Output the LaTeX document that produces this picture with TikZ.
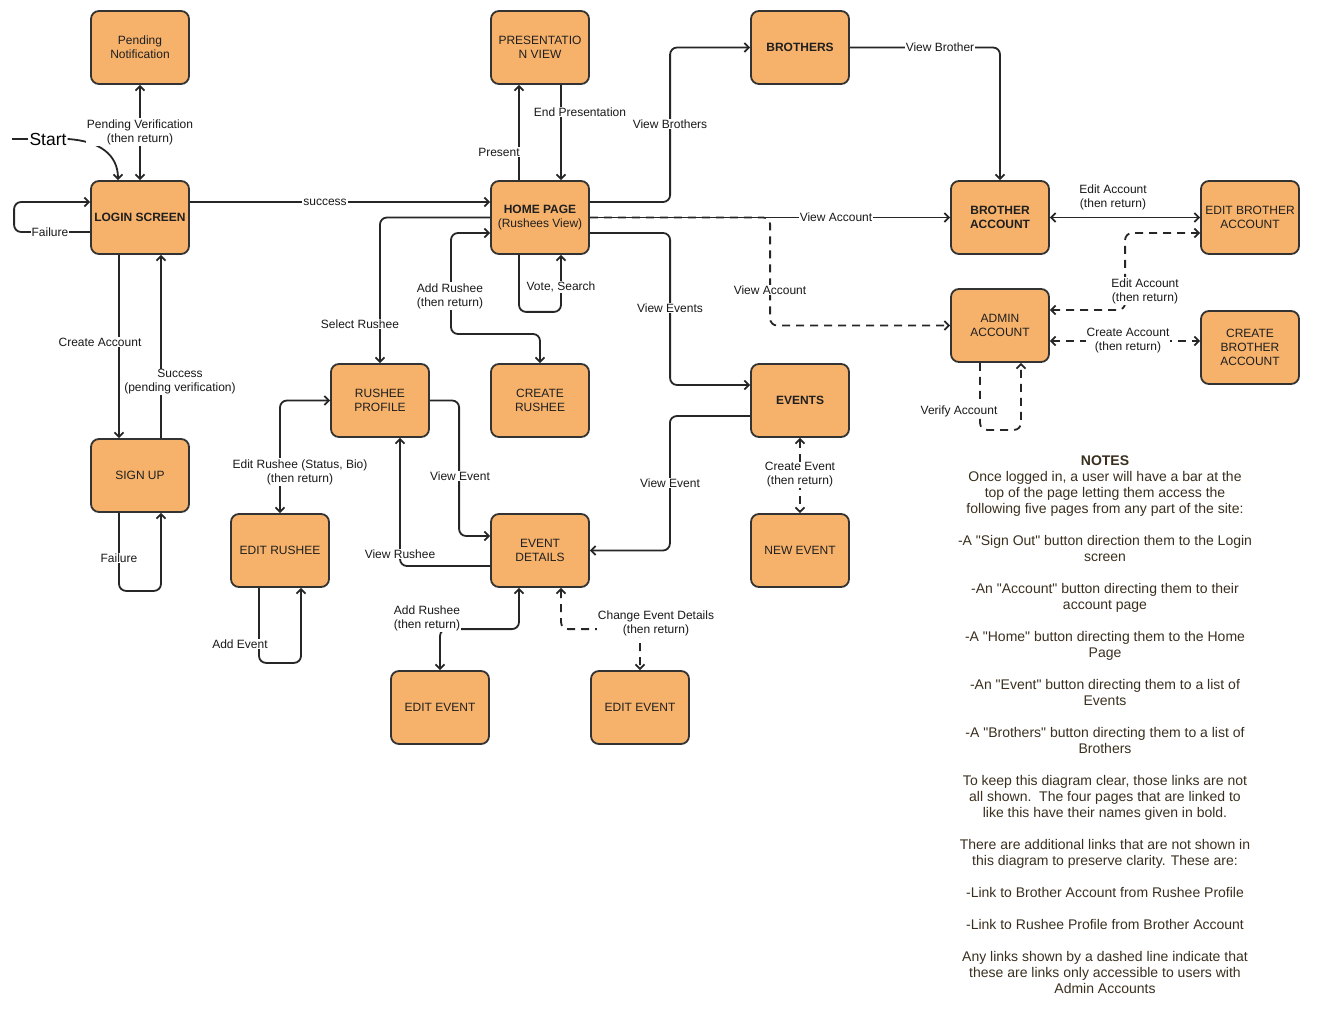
\documentclass[tikz,border=0pt]{standalone}
\usepackage{fontspec}
\setmainfont{Liberation Sans}[Ligatures=TeXOff]
\usetikzlibrary{arrows.meta}
\definecolor{boxfill}{HTML}{F6B26B}
\definecolor{boxline}{HTML}{333333}
\definecolor{notecol}{HTML}{3A2F1E}
\begin{document}
\begin{tikzpicture}[x=1pt,y=-1pt,
  page/.style={draw=boxline, fill=boxfill, line width=1.8pt, rounded corners=8pt,
    minimum width=98pt, minimum height=73pt, inner sep=2pt, align=center,
    text=black!88, font=\fontsize{12}{14}\selectfont},
  conn/.style={draw=black!85, line width=1.8pt, rounded corners=7pt},
  adm/.style={conn, dash pattern=on 8pt off 6pt},
  tip/.style={-{Straight Barb[length=4.5pt,width=9pt]}},
  tips/.style={{Straight Barb[length=4.5pt,width=9pt]}-{Straight Barb[length=4.5pt,width=9pt]}},
  lbl/.style={fill=white, inner sep=1pt, align=center, text=black!90,
    font=\fontsize{12}{14}\selectfont}]
\useasboundingbox (0,0) rectangle (1320,1016);

% pages
\node[page] (pend)   at (140,47.5)  {Pending\\Notification};
\node[page] (login)  at (140,217.5) {\textbf{LOGIN SCREEN}};
\node[page] (pres)   at (540,47.5)  {PRESENTATIO\\N VIEW};
\node[page] (home)   at (540,217.5) {\textbf{HOME PAGE}\\(Rushees View)};
\node[page] (bros)   at (800,47.5)  {\textbf{BROTHERS}};
\node[page] (bacc)   at (1000,217.5){\textbf{BROTHER}\\\textbf{ACCOUNT}};
\node[page] (ebacc)  at (1250,217.5){EDIT BROTHER\\ACCOUNT};
\node[page] (admin)  at (1000,325.5){ADMIN\\ACCOUNT};
\node[page] (cbacc)  at (1250,347.5){CREATE\\BROTHER\\ACCOUNT};
\node[page] (rprof)  at (380,400.5) {RUSHEE\\PROFILE};
\node[page] (crush)  at (540,400.5) {CREATE\\RUSHEE};
\node[page] (events) at (800,400.5) {\textbf{EVENTS}};
\node[page] (signup) at (140,475.5) {SIGN UP};
\node[page] (erush)  at (280,550.5) {EDIT RUSHEE};
\node[page] (edet)   at (540,550.5) {EVENT\\DETAILS};
\node[page] (newev)  at (800,550.5) {NEW EVENT};
\node[page] (eev1)   at (440,707.5) {EDIT EVENT};
\node[page] (eev2)   at (640,707.5) {EDIT EVENT};

% start marker
\node[inner sep=1pt, font=\fontsize{17.5}{20}\selectfont] (start) at (48,139) {Start};
\coordinate (s0) at (12,139);
\draw[conn] (s0) -- (start.west);
\draw[conn, tip] (start.east) .. controls (100,141) and (118,155) .. ([xshift=-22pt]login.north);

% login area
\draw[conn, tips] (login.north) -- (pend.south);
\draw[conn, tip] ([yshift=-14.5pt]login.west) -- ++(-76,0) -- ++(0,-30) -- ([yshift=15.5pt]login.west);
\draw[conn, tip] ([yshift=15.5pt]login.east) -- ([yshift=15.5pt]home.west);
\draw[conn, tip] ([xshift=-21pt]login.south) -- ([xshift=-21pt]signup.north);
\draw[conn, tip] ([xshift=21pt]signup.north) -- ([xshift=21pt]login.south);
\draw[conn, tip] ([xshift=-21pt]signup.south) -- ++(0,78) -- ++(42,0) -- ([xshift=21pt]signup.south);

% home page links
\draw[conn, tip] ([xshift=-21pt]home.north) -- ([xshift=-21pt]pres.south);
\draw[conn, tip] ([xshift=21pt]pres.south) -- ([xshift=21pt]home.north);
\draw[conn, tip] ([yshift=15.5pt]home.east) -| ([xshift=-80pt]bros.west) -- (bros.west);
\draw[conn, tip] (bros.east) -| (bacc.north);
\draw[conn, tip] (home.east) -- (bacc.west);
\draw[adm, tip] (home.east) -| ([xshift=-180pt]admin.west) -- (admin.west);
\draw[conn, tip] (home.west) -| (rprof.north);
\draw[conn, tips] (crush.north) |- (451,334) |- ([yshift=-15.5pt]home.west);
\draw[conn, tip] ([xshift=-21pt]home.south) -- ++(0,57) -- ++(42,0) -- ([xshift=21pt]home.south);
\draw[conn, tip] ([yshift=-15.5pt]home.east) -| ([xshift=-80pt,yshift=15.5pt]events.west) -- ([yshift=15.5pt]events.west);

% accounts
\draw[conn, tips] (bacc.east) -- (ebacc.west);
\draw[adm, tips] ([yshift=15.5pt]admin.east) -| ([xshift=-75pt,yshift=-15.5pt]ebacc.west) -- ([yshift=-15.5pt]ebacc.west);
\draw[adm, tips] ([yshift=-15.5pt]admin.east) -- ([yshift=6.5pt]cbacc.west);
\draw[adm, tip] ([xshift=-20pt]admin.south) -- ++(0,67) -- ++(41,0) -- ([xshift=21pt]admin.south);

% rushees and events
\draw[conn, tip] (rprof.east) -| ([xshift=-31pt,yshift=14.5pt]edet.west) -- ([yshift=14.5pt]edet.west);
\draw[conn, tip] ([yshift=-15.5pt]edet.west) -| ([xshift=20pt]rprof.south);
\draw[conn, tips] (erush.north) |- (rprof.west);
\draw[conn, tip] ([xshift=-21pt]erush.south) -- ++(0,75) -- ++(42,0) -- ([xshift=21pt]erush.south);
\draw[conn, tip] ([yshift=-15.5pt]events.west) -| ([xshift=80pt]edet.east) -- (edet.east);
\draw[adm, tips] (events.south) -- (newev.north);
\draw[conn, tips] ([xshift=-21pt]edet.south) |- ([yshift=41pt]eev1.north) -- (eev1.north);
\draw[adm, tips] ([xshift=21pt]edet.south) |- ([yshift=41pt]eev2.north) -- (eev2.north);

% connector labels
\node[lbl] (l1)  at (140,132) {Pending Verification\\(then return)};
\node[lbl] (l2)  at (50,232)  {Failure};
\node[lbl] (l3)  at (325,202) {success};
\node[lbl] (l4)  at (100,342) {Create Account};
\node[lbl] (l5)  at (180,382) {Success\\(pending verification)};
\node[lbl] (l6)  at (119,558) {Failure};
\node[lbl] (l7)  at (499,152) {Present};
\node[lbl] (l8)  at (580,112) {End Presentation};
\node[lbl] (l9)  at (670,124) {View Brothers};
\node[lbl] (l10) at (940,47)  {View Brother};
\node[lbl] (l11) at (836,217) {View Account};
\node[lbl] (l12) at (770,290) {View Account};
\node[lbl] (l13) at (1113,197){Edit Account\\(then return)};
\node[lbl] (l14) at (1145,291){Edit Account\\(then return)};
\node[lbl] (l15) at (1128,341){Create Account\\(then return)};
\node[lbl] (l16) at (959,411) {Verify Account};
\node[lbl] (l17) at (360,324) {Select Rushee};
\node[lbl] (l18) at (450,296) {Add Rushee\\(then return)};
\node[lbl] (l19) at (561,287) {Vote, Search};
\node[lbl] (l20) at (670,308) {View Events};
\node[lbl] (l21) at (460,476) {View Event};
\node[lbl] (l22) at (400,554) {View Rushee};
\node[lbl] (l23) at (300,472) {Edit Rushee (Status, Bio)\\(then return)};
\node[lbl] (l24) at (240,644) {Add Event};
\node[lbl] (l25) at (670,483) {View Event};
\node[lbl] (l26) at (800,475) {Create Event\\(then return)};
\node[lbl] (l27) at (427,618) {Add Rushee\\(then return)};
\node[lbl] (l28) at (656,623) {Change Event Details\\(then return)};

% notes
\node[anchor=north, align=center, inner sep=0pt, text=notecol,
      font=\fontsize{14}{16}\selectfont] (notes) at (1105,456) {%
\textbf{NOTES}\\
Once logged in, a user will have a bar at the\\
top of the page letting them access the\\
following five pages from any part of the site:\\[16pt]
-A "Sign Out" button direction them to the Login\\
screen\\[16pt]
-An "Account" button directing them to their\\
account page\\[16pt]
-A "Home" button directing them to the Home\\
Page\\[16pt]
-An "Event" button directing them to a list of\\
Events\\[16pt]
-A "Brothers" button directing them to a list of\\
Brothers\\[16pt]
To keep this diagram clear, those links are not\\
all shown.\ \ The four pages that are linked to\\
like this have their names given in bold.\\[16pt]
There are additional links that are not shown in\\
this diagram to preserve clarity. These are:\\[16pt]
-Link to Brother Account from Rushee Profile\\[16pt]
-Link to Rushee Profile from Brother Account\\[16pt]
Any links shown by a dashed line indicate that\\
these are links only accessible to users with\\
Admin Accounts};
\end{tikzpicture}
\end{document}
